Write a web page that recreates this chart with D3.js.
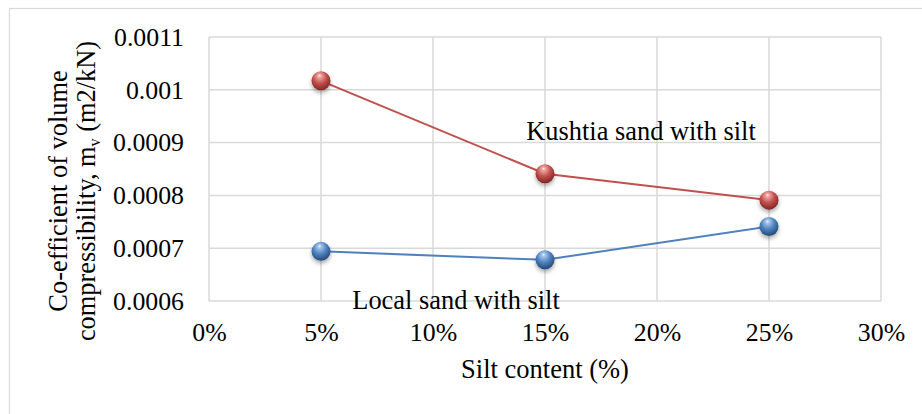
<!DOCTYPE html>
<html>
<head>
<meta charset="utf-8">
<script src="https://cdn.jsdelivr.net/npm/d3@7"></script>
<style>
  html, body { margin: 0; padding: 0; background: #fff; }
  svg text { font-family: "Liberation Serif", "Times New Roman", "DejaVu Serif", serif !important; }
</style>
</head>
<body>
<svg id="chart" width="922" height="414"></svg>
<script>
// Silt content (fraction) and coefficient of volume compressibility m_v (m2/kN)
const siltContent = [0.05, 0.15, 0.25];
const kushtiaMv = [0.001017, 0.000841, 0.000791];
const localMv = [0.000694, 0.000678, 0.000741];
const xTicks = [0, 0.05, 0.10, 0.15, 0.20, 0.25, 0.30];
const yTicks = [0.0006, 0.0007, 0.0008, 0.0009, 0.001, 0.0011];
const yTickLabels = ["0.0006", "0.0007", "0.0008", "0.0009", "0.001", "0.0011"];

const series = [
  { name: "Kushtia sand with silt", values: kushtiaMv, color: "#c0504d", light: "#f2a9a7", dark: "#7f2523" },
  { name: "Local sand with silt", values: localMv, color: "#4f81bd", light: "#a9c8ee", dark: "#22487a" }
];

const SERIF = '"Liberation Serif", "Times New Roman", serif';
const svg = d3.select("#chart");
const margin = { left: 209, right: 922 - 881, top: 37, bottom: 414 - 301 };
const W = 922, H = 414;

const x = d3.scaleLinear().domain([0, 0.30]).range([margin.left, W - margin.right]);
const y = d3.scaleLinear().domain([0.0006, 0.0011]).range([H - margin.bottom, margin.top]);

// outer chart border
svg.append("rect")
  .attr("x", 9.5).attr("y", 8.5).attr("width", 940).attr("height", 430)
  .attr("fill", "none").attr("stroke", "#d9d9d9").attr("stroke-width", 1.2);

const defs = svg.append("defs");
series.forEach((s, i) => {
  const g = defs.append("radialGradient").attr("id", "ball" + i)
    .attr("cx", "45%").attr("cy", "35%").attr("r", "65%").attr("fx", "42%").attr("fy", "22%");
  g.append("stop").attr("offset", "0%").attr("stop-color", "#ffffff").attr("stop-opacity", 0.95);
  g.append("stop").attr("offset", "12%").attr("stop-color", s.light);
  g.append("stop").attr("offset", "55%").attr("stop-color", s.color);
  g.append("stop").attr("offset", "100%").attr("stop-color", s.dark);
});
const sh = defs.append("filter").attr("id", "shadow")
  .attr("x", "-60%").attr("y", "-60%").attr("width", "220%").attr("height", "220%");
sh.append("feDropShadow").attr("dx", 0).attr("dy", 2.5).attr("stdDeviation", 2)
  .attr("flood-color", "#000").attr("flood-opacity", 0.35);

// gridlines
const grid = svg.append("g").attr("stroke", "#d9d9d9").attr("stroke-width", 1.5);
grid.selectAll(".h").data(yTicks).join("line")
  .attr("x1", x(0)).attr("x2", x(0.30))
  .attr("y1", d => y(d)).attr("y2", d => y(d));
grid.selectAll(".v").data(xTicks).join("line")
  .attr("x1", d => x(d)).attr("x2", d => x(d))
  .attr("y1", y(0.0006)).attr("y2", y(0.0011));

// axes (labels only; lines come from the grid)
const yAxis = d3.axisLeft(y).tickValues(yTicks)
  .tickFormat((d, i) => yTickLabels[i]).tickSize(0).tickPadding(25);
svg.append("g").attr("transform", `translate(${x(0)},0)`).call(yAxis)
  .attr("font-family", SERIF)
  .call(g => g.select(".domain").remove())
  .call(g => g.selectAll("text").attr("font-size", 25.8).attr("fill", "#000"));

const xAxis = d3.axisBottom(x).tickValues(xTicks)
  .tickFormat(d3.format(".0%")).tickSize(0).tickPadding(22);
svg.append("g").attr("transform", `translate(0,${y(0.0006)})`).call(xAxis)
  .attr("font-family", SERIF)
  .call(g => g.select(".domain").remove())
  .call(g => g.selectAll("text").attr("font-size", 25.8).attr("fill", "#000"));

// axis titles
svg.append("text")
  .attr("x", (x(0) + x(0.30)) / 2).attr("y", 378)
  .attr("text-anchor", "middle").attr("font-size", 26.5).attr("fill", "#000")
  .text("Silt content (%)");

const yt = svg.append("g").attr("transform", "translate(67,191) rotate(-90)");
yt.append("text").attr("x", 0).attr("y", 0).attr("text-anchor", "middle")
  .attr("font-size", 26.4).attr("fill", "#000").text("Co-efficient of volume");
const l2 = yt.append("text").attr("x", 0).attr("y", 28).attr("text-anchor", "middle")
  .attr("font-size", 26.4).attr("fill", "#000");
l2.append("tspan").text("compressibility, m");
l2.append("tspan").attr("font-size", 16).attr("dy", 5).text("v");
l2.append("tspan").attr("dy", -5).text(" (m2/kN)");

// series lines and markers
const line = d3.line().x((d, i) => x(siltContent[i])).y(d => y(d));
series.forEach((s) => {
  svg.append("path").datum(s.values)
    .attr("d", line).attr("fill", "none")
    .attr("stroke", s.color).attr("stroke-width", 2);
});
series.forEach((s, i) => {
  svg.append("g").selectAll("circle").data(s.values).join("circle")
    .attr("cx", (d, j) => x(siltContent[j])).attr("cy", d => y(d))
    .attr("r", 9.5).attr("fill", `url(#ball${i})`).attr("filter", "url(#shadow)");
});

// series name labels
svg.append("text").attr("x", 641).attr("y", 140).attr("text-anchor", "middle")
  .attr("font-size", 26.4).attr("fill", "#000").text(series[0].name);
svg.append("text").attr("x", 456).attr("y", 309).attr("text-anchor", "middle")
  .attr("font-size", 26.4).attr("fill", "#000").text(series[1].name);
</script>
</body>
</html>
